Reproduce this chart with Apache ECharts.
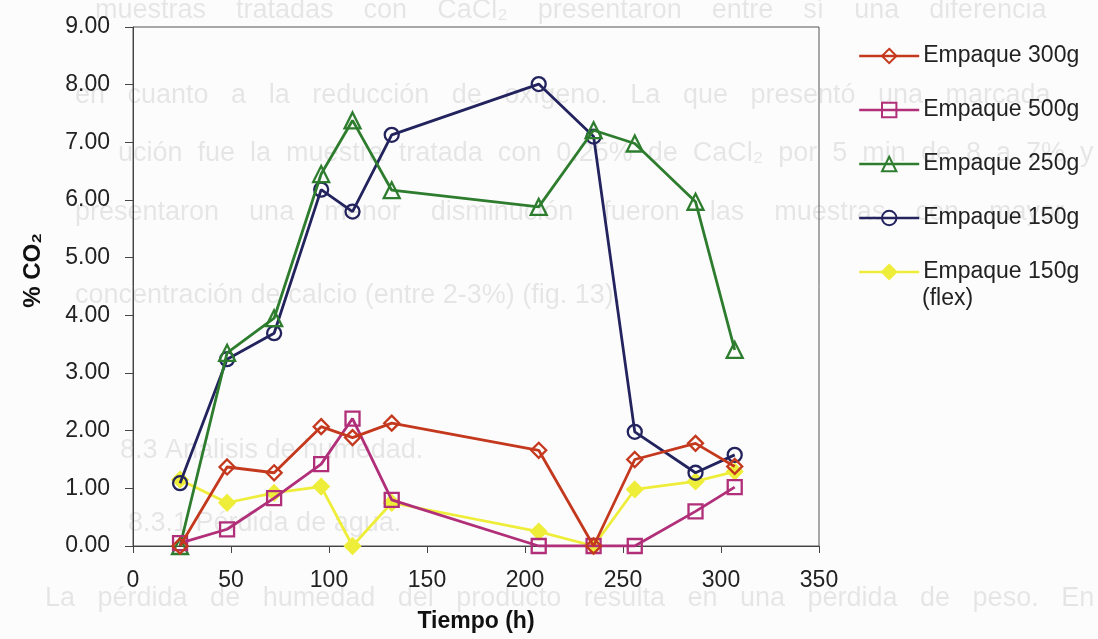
<!DOCTYPE html>
<html>
<head>
<meta charset="utf-8">
<script src="https://cdn.jsdelivr.net/npm/echarts@6/dist/echarts.min.js"></script>
<style>
html,body{margin:0;padding:0;background:#fcfcfd;}
#c{width:1098px;height:639px;}
</style>
</head>
<body>
<div id="c"></div>
<script>
// Data
var tiempo = [24, 48, 72, 96, 112, 132, 207, 235, 256, 287, 307];
var empaque300 = [0.00, 1.37, 1.27, 2.07, 1.88, 2.13, 1.66, 0.00, 1.50, 1.78, 1.38];
var empaque500 = [0.05, 0.29, 0.83, 1.42, 2.21, 0.80, 0.00, 0.00, 0.00, 0.60, 1.02];
var empaque250 = [0.00, 3.35, 3.95, 6.45, 7.38, 6.17, 5.88, 7.21, 6.98, 5.97, 3.40];
var empaque150 = [1.09, 3.24, 3.69, 6.18, 5.80, 7.13, 8.01, 7.10, 1.98, 1.27, 1.58];
var empaque150flex = [1.15, 0.75, 0.92, 1.03, 0.00, 0.75, 0.25, 0.00, 0.98, 1.12, 1.29];
var seriesNames = ['Empaque 300g', 'Empaque 500g', 'Empaque 250g', 'Empaque 150g', 'Empaque 150g (flex)'];
var yTicks = ['0.00','1.00','2.00','3.00','4.00','5.00','6.00','7.00','8.00','9.00'];

// faint bleed-through page text (scanned page behind the chart)
var pageLines = [
  ['muestras    tratadas    con    CaCl₂    presentaron    entre    sí    una    diferencia', 95, 12],
  ['en   cuanto   a   la   reducción   de   oxígeno.   La   que   presentó   una   marcada', 75, 97],
  ['ución  fue  la  muestra  tratada  con  0.25%  de  CaCl₂  por  5  min  de  8  a  7%  y', 118, 155],
  ['presentaron    una    menor    disminución    fueron    las    muestras    con    mayor', 75, 214],
  ['concentración de calcio (entre 2-3%) (fig. 13).', 75, 297],
  ['8.3 Análisis de humedad.', 120, 452],
  ['8.3.1 Pérdida de agua.', 128, 525],
  ['La   pérdida   de   humedad   del   producto   resulta   en   una   pérdida   de   peso.   En', 45, 600]
];

function pairs(ys){ return tiempo.map(function(t,i){ return [t, ys[i]]; }); }

var FONT = '"Liberation Sans", Arial, sans-serif';
var colors = ['#c4391e', '#b02f78', '#2e7d2e', '#23235e', '#eeee3a'];
var symbols = ['diamond', 'rect', 'triangle', 'circle', 'diamond'];
var sizes = [15, 14, 16, 14, 15];
var dataArr = [empaque300, empaque500, empaque250, empaque150, empaque150flex];

var series = seriesNames.map(function(n, i){
  var filled = (i === 4);
  return {
    name: n,
    type: 'line',
    data: pairs(dataArr[i]),
    symbol: symbols[i],
    symbolSize: sizes[i],
    z: 10 - i,
    lineStyle: {color: colors[i], width: 2.8},
    itemStyle: {color: filled ? colors[i] : 'rgba(255,255,255,0)', borderColor: colors[i], borderWidth: 2.3},
    emphasis: {disabled: true},
    animation: false
  };
});

var graphics = pageLines.map(function(l){
  return {type:'text', left: l[1], top: l[2] - 15, z: -10, silent: true,
    style:{text: l[0], font: '27px ' + FONT, fill: 'rgba(0,0,0,0.09)'}};
});
graphics.push({type:'text', left: 922, top: 287, z: 20,
  style:{text:'(flex)', font:'23px ' + FONT, fill:'#222'}});

var chart = echarts.init(document.getElementById('c'), null, {renderer:'canvas'});
chart.setOption({
  backgroundColor: '#fcfcfd',
  animation: false,
  grid: {left: 133, right: 279, top: 27, bottom: 93, show: true, borderColor: '#555', borderWidth: 1, backgroundColor: 'transparent'},
  legend: {
    orient: 'vertical', left: 858, top: 43, padding: 0,
    itemWidth: 60, itemHeight: 18, itemGap: 28,
    data: seriesNames,
    formatter: function(n){ return n === 'Empaque 150g (flex)' ? 'Empaque 150g' : n; },
    lineStyle: {width: 2.4},
    textStyle: {fontFamily: FONT, fontSize: 23, color: '#222', lineHeight: 26, padding: [0,0,0,-1]},
    selectedMode: false
  },
  xAxis: {
    type: 'value', min: 0, max: 350, interval: 50,
    name: 'Tiempo (h)', nameLocation: 'middle', nameGap: 64,
    nameTextStyle: {fontFamily: FONT, fontSize: 23, fontWeight: 'bold', color: '#111'},
    axisLine: {show: true, lineStyle: {color: '#444', width: 1}},
    axisTick: {show: true, inside: false, length: 7, lineStyle: {color: '#444'}},
    axisLabel: {margin: 23, fontFamily: FONT, fontSize: 23, color: '#222'},
    splitLine: {show: false}
  },
  yAxis: {
    type: 'value', min: 0, max: 9, interval: 1,
    name: '% CO₂', nameLocation: 'middle', nameGap: 88, nameRotate: 90,
    nameTextStyle: {fontFamily: FONT, fontSize: 24, fontWeight: 'bold', color: '#111', padding: [0,0,0,32]},
    axisLine: {show: true, lineStyle: {color: '#444', width: 1}},
    axisTick: {show: true, inside: false, length: 8, lineStyle: {color: '#444'}},
    axisLabel: {margin: 23, fontFamily: FONT, fontSize: 23, color: '#222',
      formatter: function(v){ return yTicks[Math.round(v)]; }},
    splitLine: {show: false}
  },
  graphic: graphics,
  series: series
});
</script>
</body>
</html>
